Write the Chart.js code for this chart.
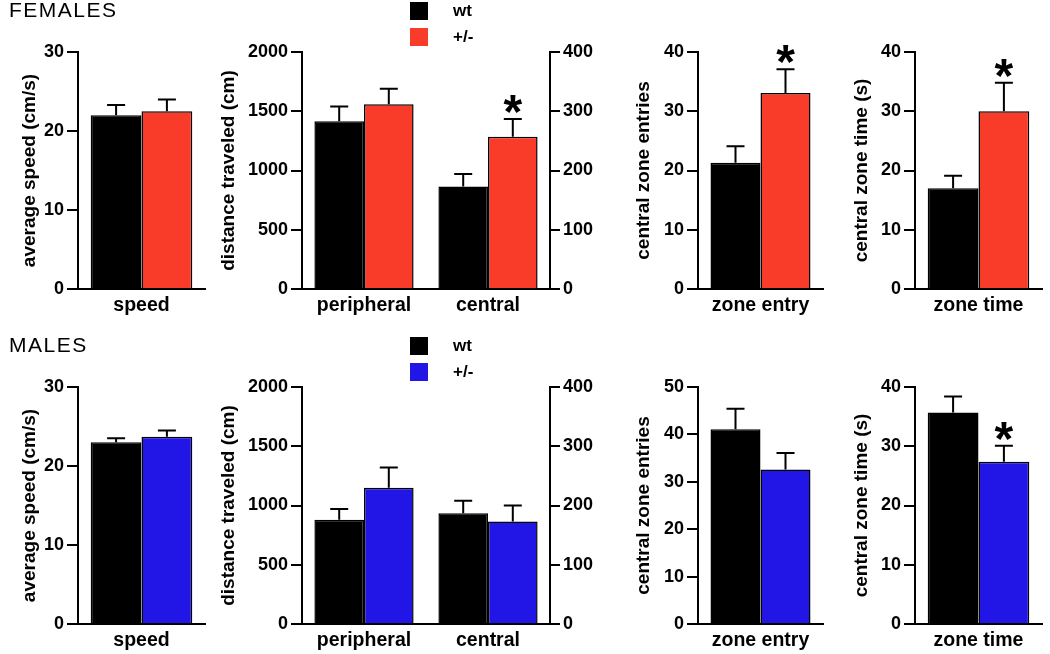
<!DOCTYPE html>
<html lang="en">
<head>
<meta charset="UTF-8">
<script src="https://cdn.jsdelivr.net/npm/chart.js"></script>
<style>
  body { margin: 0; background: #fff; }
  #wrap { position: relative; width: 1050px; height: 654px; }
  #wrap canvas { position: absolute; left: 0; top: 0; }
</style>
</head>
<body>
<div id="wrap">
  <canvas id="fSpeedChart" width="1050" height="654"></canvas>
  <canvas id="fDistChart" width="1050" height="654"></canvas>
  <canvas id="fEntryChart" width="1050" height="654"></canvas>
  <canvas id="fTimeChart" width="1050" height="654"></canvas>
  <canvas id="mSpeedChart" width="1050" height="654"></canvas>
  <canvas id="mDistChart" width="1050" height="654"></canvas>
  <canvas id="mEntryChart" width="1050" height="654"></canvas>
  <canvas id="mTimeChart" width="1050" height="654"></canvas>
</div>
<script>
const groups = ['wt', '+/-'];
const femaleColors = ['#000000', '#f93b2a'];
const maleColors = ['#000000', '#2216e6'];

// FEMALES (mean and SEM, wt then +/-)
const fSpeed = [22.0, 22.5];
const fSpeedSem = [1.3, 1.5];
const fPeripheral = [1415, 1560];
const fPeripheralSem = [125, 130];
const fCentral = [173, 257];
const fCentralSem = [21, 30];
const fCentralStar = [false, true];
const fEntries = [21.3, 33.1];
const fEntriesSem = [2.8, 4.0];
const fEntriesStar = [false, true];
const fZoneTime = [17.0, 30.0];
const fZoneTimeSem = [2.1, 4.8];
const fZoneTimeStar = [false, true];

// MALES
const mSpeed = [23.0, 23.7];
const mSpeedSem = [0.5, 0.8];
const mPeripheral = [880, 1150];
const mPeripheralSem = [90, 170];
const mCentral = [187, 173];
const mCentralSem = [21, 27];
const mEntries = [41.1, 32.6];
const mEntriesSem = [4.3, 3.5];
const mZoneTime = [35.7, 27.4];
const mZoneTimeSem = [2.7, 2.7];
const mZoneTimeStar = [false, true];

const noStar = [false, false];

Chart.defaults.font.family = "'Liberation Sans', Arial, sans-serif";
Chart.defaults.font.weight = 'bold';
Chart.defaults.font.size = 18;
Chart.defaults.color = '#000';

// panel geometry (page pixels)
const rows = { F: { top: 52, bottom: 289 }, M: { top: 387, bottom: 624 } };
const cols = [
  { boxLeft: 18, axis: 78, right: 205 },
  { boxLeft: 217, axis: 302, right: 550 },
  { boxLeft: 632, axis: 698, right: 823 },
  { boxLeft: 850, axis: 915, right: 1042 }
];
const xH = 40;
const y1W = 50;

const errorBars = {
  id: 'errorBars',
  afterDatasetsDraw(chart) {
    const ctx = chart.ctx;
    chart.data.datasets.forEach((ds, i) => {
      const meta = chart.getDatasetMeta(i);
      const scale = chart.scales[meta.yAxisID];
      meta.data.forEach((bar, j) => {
        const v = ds.data[j];
        if (v === null || v === undefined) return;
        const top = scale.getPixelForValue(v + ds.sem[j]);
        ctx.save();
        ctx.strokeStyle = '#000';
        ctx.lineWidth = 2;
        ctx.beginPath();
        ctx.moveTo(bar.x, bar.y);
        ctx.lineTo(bar.x, top);
        ctx.moveTo(bar.x - 9, top);
        ctx.lineTo(bar.x + 9, top);
        ctx.stroke();
        if (ds.stars && ds.stars[j]) {
          ctx.fillStyle = '#000';
          ctx.font = "bold 48px 'Liberation Sans', Arial, sans-serif";
          ctx.textAlign = 'center';
          ctx.textBaseline = 'alphabetic';
          ctx.fillText('*', bar.x, top + 9);
        }
        ctx.restore();
      });
    });
  }
};

const groupLegend = {
  id: 'groupLegend',
  afterDraw(chart, args, opts) {
    if (!opts.colors) return;
    const ctx = chart.ctx;
    const top = chart.chartArea.top;
    const offsets = [-50, -24];
    ctx.save();
    groups.forEach((g, k) => {
      const y = top + offsets[k];
      ctx.fillStyle = opts.colors[k];
      ctx.fillRect(410, y, 18, 18);
      ctx.fillStyle = '#000';
      ctx.font = "bold 17px 'Liberation Sans', Arial, sans-serif";
      ctx.textAlign = 'left';
      ctx.textBaseline = 'middle';
      ctx.fillText(g, 453, y + 9);
    });
    ctx.restore();
  }
};

const header = {
  id: 'header',
  afterDraw(chart, args, opts) {
    if (!opts.text) return;
    const ctx = chart.ctx;
    ctx.save();
    ctx.fillStyle = '#000';
    ctx.font = "21px 'Liberation Sans', Arial, sans-serif";
    if ('letterSpacing' in ctx) ctx.letterSpacing = '1.5px';
    ctx.textAlign = 'left';
    ctx.textBaseline = 'alphabetic';
    ctx.fillText(opts.text, 9, chart.chartArea.top - 35);
    ctx.restore();
  }
};

function yScale(max, step, title, position, width, tick) {
  return {
    position: position,
    min: 0,
    max: max,
    ticks: { stepSize: step, padding: 3, font: { size: 18 }, callback: v => String(v) },
    grid: { drawOnChartArea: false, color: '#000', lineWidth: 2, tickLength: tick },
    border: { color: '#000', width: 2 },
    title: { display: !!title, text: title, font: { size: 19 }, padding: 0 },
    afterFit: s => { s.width = width; }
  };
}

function bars(values, sems, stars, colors, index, count, axis) {
  return groups.map((g, k) => {
    const data = new Array(count).fill(null);
    const sem = new Array(count).fill(null);
    const st = new Array(count).fill(false);
    data[index] = values[k];
    sem[index] = sems[k];
    st[index] = stars[k];
    return {
      label: g,
      data: data,
      sem: sem,
      stars: st,
      yAxisID: axis,
      backgroundColor: colors[k],
      borderColor: '#000',
      borderWidth: 1.5,
      categoryPercentage: 0.8,
      barPercentage: 1.0,
      skipNull: true
    };
  });
}

function makePanel(id, row, col, labels, datasets, y, y1, extra) {
  const r = rows[row];
  const c = cols[col];
  const scales = {
    x: {
      grid: { display: false, drawTicks: false },
      border: { color: '#000', width: 2 },
      ticks: { padding: 5, font: { size: 19.5 } },
      afterFit: s => { s.height = xH; }
    },
    y: yScale(y.max, y.step, y.title, 'left', c.axis - c.boxLeft, 11)
  };
  if (y1) scales.y1 = yScale(y1.max, y1.step, '', 'right', y1W, 10);
  new Chart(document.getElementById(id), {
    type: 'bar',
    data: { labels: labels, datasets: datasets },
    options: {
      responsive: false,
      animation: false,
      devicePixelRatio: 1,
      layout: {
        padding: {
          left: c.boxLeft,
          top: r.top,
          right: 1050 - c.right - (y1 ? y1W : 0),
          bottom: 654 - r.bottom - xH
        }
      },
      plugins: {
        legend: { display: false },
        tooltip: { enabled: false },
        groupLegend: extra.legend || {},
        header: extra.header || {}
      },
      scales: scales
    },
    plugins: [errorBars, groupLegend, header]
  });
}

const sexes = [
  { row: 'F', p: 'f', colors: femaleColors, header: 'FEMALES',
    speed: fSpeed, speedSem: fSpeedSem,
    per: fPeripheral, perSem: fPeripheralSem,
    cen: fCentral, cenSem: fCentralSem, cenStar: fCentralStar,
    ent: fEntries, entSem: fEntriesSem, entStar: fEntriesStar, entMax: 40,
    time: fZoneTime, timeSem: fZoneTimeSem, timeStar: fZoneTimeStar },
  { row: 'M', p: 'm', colors: maleColors, header: 'MALES',
    speed: mSpeed, speedSem: mSpeedSem,
    per: mPeripheral, perSem: mPeripheralSem,
    cen: mCentral, cenSem: mCentralSem, cenStar: noStar,
    ent: mEntries, entSem: mEntriesSem, entStar: noStar, entMax: 50,
    time: mZoneTime, timeSem: mZoneTimeSem, timeStar: mZoneTimeStar }
];

sexes.forEach(s => {
  makePanel(s.p + 'SpeedChart', s.row, 0, ['speed'],
    bars(s.speed, s.speedSem, noStar, s.colors, 0, 1, 'y'),
    { max: 30, step: 10, title: 'average speed (cm/s)' }, null,
    { header: { text: s.header } });

  makePanel(s.p + 'DistChart', s.row, 1, ['peripheral', 'central'],
    bars(s.per, s.perSem, noStar, s.colors, 0, 2, 'y')
      .concat(bars(s.cen, s.cenSem, s.cenStar, s.colors, 1, 2, 'y1')),
    { max: 2000, step: 500, title: 'distance traveled (cm)' },
    { max: 400, step: 100 },
    { legend: { colors: s.colors } });

  makePanel(s.p + 'EntryChart', s.row, 2, ['zone entry'],
    bars(s.ent, s.entSem, s.entStar, s.colors, 0, 1, 'y'),
    { max: s.entMax, step: 10, title: 'central zone entries' }, null, {});

  makePanel(s.p + 'TimeChart', s.row, 3, ['zone time'],
    bars(s.time, s.timeSem, s.timeStar, s.colors, 0, 1, 'y'),
    { max: 40, step: 10, title: 'central zone time (s)' }, null, {});
});
</script>
</body>
</html>
